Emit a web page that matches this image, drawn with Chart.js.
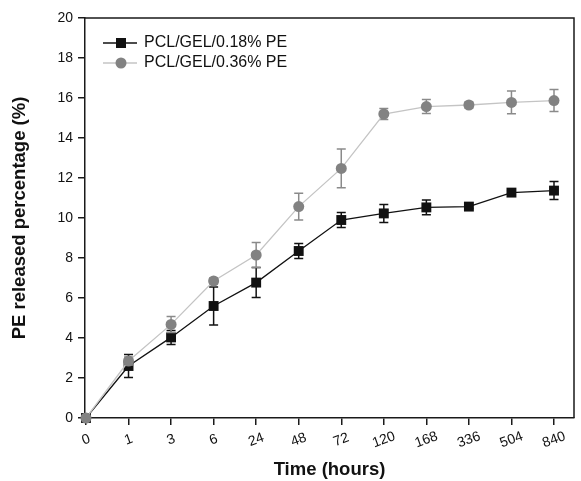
<!DOCTYPE html>
<html><head><meta charset="utf-8">
<script src="https://cdn.jsdelivr.net/npm/chart.js@4"></script>
<style>html,body{margin:0;padding:0;background:#fff}#wrap{width:581px;height:481px;position:relative}</style>
</head><body><div id="wrap"><canvas id="c"></canvas></div>
<script>
const timeLabels = ['0','1','3','6','24','48','72','120','168','336','504','840'];
const pcl018 = [0, 2.6, 4.03, 5.6, 6.77, 8.35, 9.9, 10.23, 10.53, 10.57, 11.27, 11.37];
const pcl018Err = [0, 0.57, 0.35, 0.95, 0.75, 0.38, 0.38, 0.45, 0.37, 0.1, 0.1, 0.45];
const pcl036 = [0, 2.85, 4.68, 6.85, 8.15, 10.57, 12.48, 15.2, 15.57, 15.65, 15.78, 15.87];
const pcl036Err = [0, 0.2, 0.4, 0.15, 0.62, 0.67, 0.97, 0.27, 0.35, 0.15, 0.57, 0.55];
const seriesNames = ['PCL/GEL/0.18% PE', 'PCL/GEL/0.36% PE'];
const xTitle = 'Time (hours)';
const yTitle = 'PE released percentage (%)';

const FONT = "'Liberation Sans', Arial, sans-serif";
const AXIS = '#1a1a1a';

function toPoints(vals) { return vals.map((v, i) => ({x: i, y: v})); }

const errorBars = {
  id: 'errorBars',
  beforeDatasetDraw(chart, args) {
    const ds = chart.data.datasets[args.index];
    if (!ds.errors) return;
    const {ctx} = chart;
    const xs = chart.scales.x, ys = chart.scales.y;
    ctx.save();
    ctx.strokeStyle = ds.errorColor;
    ctx.lineWidth = 1.5;
    ds.data.forEach((p, i) => {
      const e = ds.errors[i];
      if (!e) return;
      const px = xs.getPixelForValue(p.x);
      const top = ys.getPixelForValue(p.y + e);
      const bot = ys.getPixelForValue(p.y - e);
      ctx.beginPath();
      ctx.moveTo(px, top); ctx.lineTo(px, bot);
      ctx.moveTo(px - 4.5, top); ctx.lineTo(px + 4.5, top);
      ctx.moveTo(px - 4.5, bot); ctx.lineTo(px + 4.5, bot);
      ctx.stroke();
    });
    ctx.restore();
  }
};

const frameAndLegend = {
  id: 'frameAndLegend',
  afterDraw(chart) {
    const {ctx, chartArea: a} = chart;
    ctx.save();
    ctx.strokeStyle = AXIS;
    ctx.lineWidth = 1.5;
    ctx.beginPath();
    ctx.moveTo(a.left, a.top); ctx.lineTo(a.right, a.top); ctx.lineTo(a.right, a.bottom);
    ctx.stroke();
    // legend
    const x0 = a.left + 18, x1 = a.left + 52, mx = a.left + 36, tx = a.left + 59;
    chart.data.datasets.forEach((ds, i) => {
      const y = a.top + 25 + i * 20;
      ctx.strokeStyle = ds.borderColor;
      ctx.lineWidth = ds.borderWidth;
      ctx.beginPath(); ctx.moveTo(x0, y); ctx.lineTo(x1, y); ctx.stroke();
      ctx.fillStyle = ds.pointBackgroundColor;
      if (ds.pointStyle === 'rect') {
        ctx.fillRect(mx - 5, y - 5, 10, 10);
      } else {
        ctx.beginPath(); ctx.arc(mx, y, 5.5, 0, Math.PI * 2); ctx.fill();
      }
      ctx.fillStyle = '#111';
      ctx.font = "16px " + FONT;
      ctx.textBaseline = 'middle';
      ctx.textAlign = 'left';
      ctx.fillText(ds.label, tx, y);
    });
    ctx.restore();
  }
};

new Chart(document.getElementById('c'), {
  type: 'line',
  data: {
    datasets: [
      {
        label: seriesNames[0],
        data: toPoints(pcl018),
        errors: pcl018Err,
        errorColor: '#111',
        borderColor: '#111',
        borderWidth: 1.3,
        pointStyle: 'rect',
        pointRadius: 7,
        pointBackgroundColor: '#111',
        pointBorderColor: '#111',
        pointBorderWidth: 0,
        order: 1,
        clip: false
      },
      {
        label: seriesNames[1],
        data: toPoints(pcl036),
        errors: pcl036Err,
        errorColor: '#8a8a8a',
        borderColor: '#c4c4c4',
        borderWidth: 1.3,
        pointStyle: 'circle',
        pointRadius: 5.5,
        pointBackgroundColor: '#828282',
        pointBorderColor: '#828282',
        pointBorderWidth: 0,
        order: 0,
        clip: false
      }
    ]
  },
  options: {
    responsive: true,
    maintainAspectRatio: false,
    animation: false,
    devicePixelRatio: 1,
    layout: {padding: {top: 18, right: 1, left: 0, bottom: 0}},
    plugins: {legend: {display: false}, tooltip: {enabled: false}},
    elements: {line: {tension: 0}},
    scales: {
      x: {
        type: 'linear',
        min: -0.023,
        max: 11.47,
        afterFit(s) { s.height = 63; },
        afterBuildTicks(s) { s.ticks = timeLabels.map((_, i) => ({value: i})); },
        ticks: {
          autoSkip: false,
          minRotation: 20,
          maxRotation: 20,
          padding: 3,
          labelOffset: 11,
          color: '#111',
          font: {family: FONT, size: 14},
          callback(v) {
            const t = timeLabels[v];
            if (t === undefined) return '';
            return t + ' '.repeat(Math.max(0, 3 - t.length));
          }
        },
        grid: {display: true, drawOnChartArea: false, drawTicks: true, tickLength: 7, color: AXIS, lineWidth: 1.5},
        border: {display: true, color: AXIS, width: 1.5},
        title: {display: true, text: xTitle, color: '#111', font: {family: FONT, size: 18.5, weight: 'bold'}, padding: {top: 0, bottom: 0}}
      },
      y: {
        min: 0,
        max: 20,
        afterFit(s) { s.width = 85; },
        ticks: {stepSize: 2, padding: 5, color: '#111', font: {family: FONT, size: 14}},
        grid: {display: true, drawOnChartArea: false, drawTicks: true, tickLength: 7, color: AXIS, lineWidth: 1.5},
        border: {display: true, color: AXIS, width: 1.5},
        title: {display: true, text: yTitle, color: '#111', font: {family: FONT, size: 18.5, weight: 'bold'}, padding: {top: 9, bottom: 0}}
      }
    }
  },
  plugins: [errorBars, frameAndLegend]
});
</script>
</body></html>
